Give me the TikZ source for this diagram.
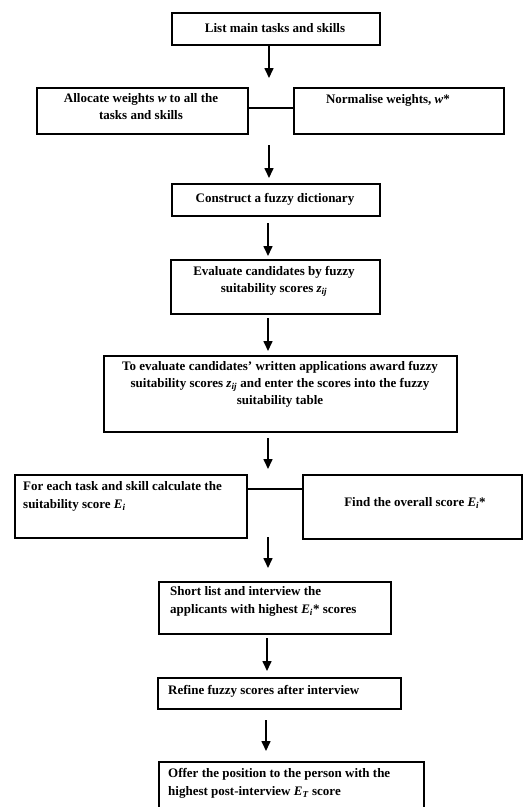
\documentclass[tikz,border=0pt]{standalone}
\usepackage{fontspec}
\setmainfont{Liberation Serif}
\usetikzlibrary{arrows.meta,calc}
\newcommand{\iv}[1]{\textit{#1}}
\newcommand{\sbs}[1]{\textsubscript{\textit{#1}}}
\tikzset{
  box/.style={draw, line width=1.5pt, inner sep=0pt, anchor=north west},
  txt/.style={inner sep=0pt, font=\bfseries\fontsize{13}{17}\selectfont, align=center},
  ltxt/.style={inner sep=0pt, font=\bfseries\fontsize{13}{18}\selectfont, align=left, anchor=north west},
  arr/.style={line width=1.6pt, -{Triangle[width=9pt,length=10pt]}},
  link/.style={line width=1.5pt}
}
\newcommand{\bx}[5]{% name, x1,y1,x2,y2
  \node[box, minimum width={(#4-#2)*1pt}, minimum height={(#5-#3)*1pt}] (#1) at (#2,#3) {};}
\begin{document}
\begin{tikzpicture}[x=1pt,y=-1pt]
\clip (0,0) rectangle (524,807);
\fill[white] (0,0) rectangle (524,807);
% boxes
\bx{b1}{171}{12}{379}{44}
\bx{b2}{36}{87}{247}{133}
\bx{b3}{293}{87}{503}{133}
\bx{b4}{171}{183}{379}{215}
\bx{b5}{170}{259}{379}{313}
\bx{b6}{103}{355}{456}{431}
\bx{b7}{14}{474}{246}{537}
\bx{b8}{302}{474}{521}{538}
\bx{b9}{158}{581}{390}{633}
\bx{b10}{157}{677}{400}{708}
\bx{b11}{158}{761}{423}{815}
% texts
\node[txt] (t1) at (275,28) {List main tasks and skills};
\node[txt, anchor=north] (t2) at (141,93) {Allocate weights \iv{w} to all the\\tasks and skills};
\node[txt] (t3) at (388,100) {Normalise weights, \iv{w}*};
\node[txt] (t4) at (275,199) {Construct a fuzzy dictionary};
\node[txt, anchor=north] (t5) at (274,266) {Evaluate candidates by fuzzy\\suitability scores \iv{z}\sbs{ij}};
\node[txt, anchor=north] (t6) at (280,361) {To evaluate candidates' written applications award fuzzy\\suitability scores \iv{z}\sbs{ij} and enter the scores into the fuzzy\\suitability table};
\node[ltxt] (t7) at (23,481) {For each task and skill calculate the\\suitability score \iv{E}\sbs{i}};
\node[txt] (t8) at (415,503) {Find the overall score \iv{E}\sbs{i}*};
\node[ltxt] (t9) at (170,586) {Short list and interview the\\applicants with highest \iv{E}\sbs{i}* scores};
\node[ltxt] (t10) at (168,685) {Refine fuzzy scores after interview};
\node[ltxt] (t11) at (168,768) {Offer the position to the person with the\\highest post-interview \iv{E}\sbs{T} score};
% arrow end points
\coordinate (a1s) at (269,44);  \coordinate (a1e) at (269,78);
\coordinate (a2s) at (269,145); \coordinate (a2e) at (269,178);
\coordinate (a3s) at (268,223); \coordinate (a3e) at (268,256);
\coordinate (a4s) at (268,318); \coordinate (a4e) at (268,351);
\coordinate (a5s) at (268,438); \coordinate (a5e) at (268,469);
\coordinate (a6s) at (268,537); \coordinate (a6e) at (268,568);
\coordinate (a7s) at (267,638); \coordinate (a7e) at (267,671);
\coordinate (a8s) at (266,720); \coordinate (a8e) at (266,751);
\draw[arr] (a1s) -- (a1e);
\draw[arr] (a2s) -- (a2e);
\draw[arr] (a3s) -- (a3e);
\draw[arr] (a4s) -- (a4e);
\draw[arr] (a5s) -- (a5e);
\draw[arr] (a6s) -- (a6e);
\draw[arr] (a7s) -- (a7e);
\draw[arr] (a8s) -- (a8e);
% connectors
\draw[link] (b2.east |- 0,108) -- (b3.west |- 0,108);
\draw[link] (b7.east |- 0,489) -- (b8.west |- 0,489);
\end{tikzpicture}
\end{document}
